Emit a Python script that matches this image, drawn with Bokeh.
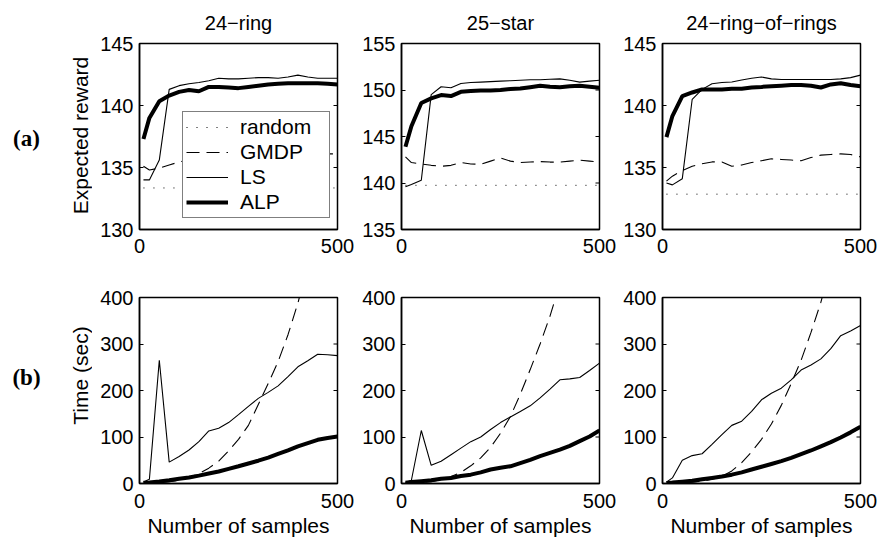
from bokeh.plotting import figure
from bokeh.models import Range1d, FixedTicker, Legend, LegendItem, Label
from bokeh.layouts import gridplot
from bokeh.embed import file_html
from bokeh.resources import INLINE
import math

# ---------------- data ----------------
samples = [10, 25, 50, 75, 100, 125, 150, 175, 200, 225, 250, 275, 300,
           325, 350, 375, 400, 425, 450, 475, 500]
titles = ["24\u2212ring", "25\u2212star", "24\u2212ring\u2212of\u2212rings"]
series_names = ["random", "GMDP", "LS", "ALP"]
x_ticks = [0, 500]
reward_ticks_ring = [130, 135, 140, 145]
reward_ticks_star = [135, 140, 145, 150, 155]
time_ticks = [0, 100, 200, 300, 400]

# (a) expected reward
ring_random = [133.35, 133.35, 133.35, 133.35, 133.35, 133.35, 133.35, 133.35, 133.35, 133.35, 133.35,
               133.35, 133.35, 133.35, 133.35, 133.35, 133.35, 133.35, 133.35, 133.35, 133.35]
ring_gmdp = [135.1, 134.8, 134.95, 135.2, 135.45, 135.6, 135.55, 135.4, 135.6, 135.7, 135.8,
             135.75, 135.9, 135.85, 135.9, 136.0, 136.05, 136.1, 136.0, 136.1, 136.1]
ring_ls = [134.0, 134.0, 135.6, 141.3, 141.6, 141.75, 141.85, 142.0, 142.2, 142.15, 142.15,
           142.2, 142.25, 142.25, 142.2, 142.3, 142.45, 142.3, 142.2, 142.2, 142.2]
ring_alp = [137.3, 139.0, 140.35, 140.8, 141.1, 141.25, 141.15, 141.5, 141.5, 141.45, 141.4,
            141.5, 141.6, 141.7, 141.75, 141.8, 141.8, 141.8, 141.8, 141.75, 141.7]

star_random = [139.75, 139.75, 139.75, 139.75, 139.75, 139.75, 139.75, 139.75, 139.75, 139.75, 139.75,
               139.75, 139.75, 139.75, 139.75, 139.75, 139.75, 139.75, 139.75, 139.75, 139.75]
star_gmdp = [142.8, 142.2, 142.05, 141.9, 141.8, 141.9, 142.2, 142.05, 142.0, 142.35, 142.7,
             142.35, 142.2, 142.25, 142.3, 142.25, 142.25, 142.35, 142.45, 142.35, 142.25]
star_ls = [139.6, 139.85, 140.3, 149.5, 150.35, 150.25, 150.7, 150.8, 150.85, 150.9, 150.95,
           151.0, 151.05, 151.1, 151.1, 151.15, 151.2, 151.05, 150.85, 150.95, 151.05]
star_alp = [143.9, 146.1, 148.6, 149.1, 149.45, 149.35, 149.8, 149.9, 149.95, 149.95, 150.0,
            150.1, 150.15, 150.3, 150.45, 150.35, 150.3, 150.4, 150.45, 150.35, 150.25]

rr_random = [132.85, 132.85, 132.85, 132.85, 132.85, 132.85, 132.85, 132.85, 132.85, 132.85, 132.85,
             132.85, 132.85, 132.85, 132.85, 132.85, 132.85, 132.85, 132.85, 132.85, 132.85]
rr_gmdp = [133.9, 134.3, 134.75, 135.1, 135.3, 135.45, 135.45, 135.1, 135.2, 135.4, 135.55,
           135.7, 135.65, 135.6, 135.55, 135.8, 136.0, 136.05, 136.1, 136.05, 135.85]
rr_ls = [133.75, 133.6, 134.1, 140.5, 141.3, 141.75, 141.85, 141.9, 142.05, 142.2, 142.3,
         142.15, 142.1, 142.1, 142.1, 142.1, 142.1, 142.1, 142.15, 142.25, 142.45]
rr_alp = [137.45, 139.15, 140.75, 141.05, 141.3, 141.3, 141.3, 141.35, 141.35, 141.45, 141.5,
          141.55, 141.6, 141.65, 141.65, 141.6, 141.45, 141.7, 141.8, 141.65, 141.55]

# (b) time (sec); GMDP runs off the top of the axes, only readable part kept
ring_time_gmdp = [0.5, 1, 2, 4, 7, 13, 21, 33, 48, 70, 95, 125, 170, 215, 262, 320, 388, 470]
ring_time_ls = [3, 9, 265, 46, 58, 72, 90, 113, 119, 131, 148, 166, 183, 196, 210, 230, 251,
                264, 278, 277, 275]
ring_time_alp = [1.4, 2, 4.3, 7, 10, 13, 17, 21.4, 25.7, 31.4, 37, 43, 49, 55.7, 63.6, 71.4, 80,
                 87, 94, 98, 101]

star_time_gmdp = [0.5, 1, 2, 4, 8, 15, 24, 38, 55, 78, 108, 144, 192, 245, 300, 360, 430]
star_time_ls = [1.4, 7, 114, 39, 48, 62, 76, 90, 100, 116, 131, 143, 155, 167, 184, 203, 223,
                225, 228, 243, 259]
star_time_alp = [1.4, 3, 5, 7, 10, 12, 16, 19, 24, 30, 34, 37, 44, 51, 59, 66, 73, 81, 91, 101, 114]

rr_time_gmdp = [0.5, 1, 2, 3, 5, 9, 15, 27, 45, 68, 95, 128, 168, 215, 265, 325, 390, 470]
rr_time_ls = [3, 12, 50, 60, 64, 84, 105, 125, 134, 155, 180, 194, 205, 223, 244, 255, 268,
              290, 318, 328, 340]
rr_time_alp = [1, 2, 4, 6, 9, 12, 15, 19, 24, 30, 36, 42, 48, 55, 63, 71, 80, 89, 99, 110, 122]

# ---------------- styling / layout ----------------
FONT = "Liberation Sans"
TICK_SIZE = "20px"
LABEL_SIZE = "21px"

side_w = 92
col_w = [265, 262, 259]
col_left = [47, 44, 43]
col_right = [20, 20, 18]
row_h = [262, 277]
row_top = [43, 35]
row_bottom = [33, 56]
frame_h = row_h[0] - row_top[0] - row_bottom[0]
x_label_standoff = [9, 10]

styles = {
    "random": dict(line_width=1, line_dash="1 9"),
    "GMDP": dict(line_width=1.1, line_dash="13 7"),
    "LS": dict(line_width=1.1),
    "ALP": dict(line_width=4),
}


def style_axis(ax, ticks):
    ax.ticker = FixedTicker(ticks=ticks)
    ax.axis_line_color = "black"
    ax.axis_line_width = 1.5
    ax.major_tick_in = 4
    ax.major_tick_out = 0
    ax.major_tick_line_color = "black"
    ax.minor_tick_line_color = None
    ax.major_label_text_font = FONT
    ax.major_label_text_color = "black"
    ax.major_label_text_font_size = TICK_SIZE
    ax.major_label_standoff = 7
    ax.axis_label_text_font = FONT
    ax.axis_label_text_font_size = LABEL_SIZE
    ax.axis_label_text_font_style = "normal"
    ax.axis_label_text_color = "black"


def panel(ci, ri, yr, yticks, data, title=None, xlabel=None):
    p = figure(width=col_w[ci], height=row_h[ri],
               x_range=Range1d(0, 500), y_range=Range1d(*yr),
               output_backend="svg", toolbar_location=None,
               min_border_left=col_left[ci], min_border_right=col_right[ci],
               min_border_top=row_top[ri], min_border_bottom=row_bottom[ri])
    p.grid.visible = False
    p.outline_line_color = "black"
    p.outline_line_width = 1.5
    p.background_fill_color = "white"
    p.border_fill_color = "white"
    style_axis(p.xaxis[0], x_ticks)
    style_axis(p.yaxis[0], yticks)
    p.xaxis[0].major_label_standoff = x_label_standoff[ri]
    p.yaxis[0].major_label_standoff = 6
    p.xaxis[0].axis_label_standoff = 3
    # mirrored (inward) tick marks on the right-hand edge of the box
    p.scatter(x=[p.x_range.end] * len(yticks), y=yticks, marker="dash", size=8,
              line_color="black", line_width=1)
    if title:
        p.title.text = title
        p.title.align = "center"
        p.title.text_font = FONT
        p.title.text_font_size = TICK_SIZE
        p.title.text_font_style = "normal"
        p.title.text_color = "black"
        p.title.standoff = 19
    if xlabel:
        p.xaxis[0].axis_label = xlabel
    rends = {}
    for name, (xs, ys) in data.items():
        rends[name] = p.line(xs, ys, line_color="black", **styles[name])
    return p, rends


p11, r11 = panel(0, 0, (130, 145), reward_ticks_ring,
                 {"random": (samples, ring_random), "GMDP": (samples, ring_gmdp),
                  "LS": (samples, ring_ls), "ALP": (samples, ring_alp)},
                 title=titles[0])
p12, _ = panel(1, 0, (135, 155), reward_ticks_star,
               {"random": (samples, star_random), "GMDP": (samples, star_gmdp),
                "LS": (samples, star_ls), "ALP": (samples, star_alp)},
               title=titles[1])
p13, _ = panel(2, 0, (130, 145), reward_ticks_ring,
               {"random": (samples, rr_random), "GMDP": (samples, rr_gmdp),
                "LS": (samples, rr_ls), "ALP": (samples, rr_alp)},
               title=titles[2])

p21, _ = panel(0, 1, (0, 400), time_ticks,
               {"GMDP": (samples[:len(ring_time_gmdp)], ring_time_gmdp),
                "LS": (samples, ring_time_ls), "ALP": (samples, ring_time_alp)},
               xlabel="Number of samples")
p22, _ = panel(1, 1, (0, 400), time_ticks,
               {"GMDP": (samples[:len(star_time_gmdp)], star_time_gmdp),
                "LS": (samples, star_time_ls), "ALP": (samples, star_time_alp)},
               xlabel="Number of samples")
p23, _ = panel(2, 1, (0, 400), time_ticks,
               {"GMDP": (samples[:len(rr_time_gmdp)], rr_time_gmdp),
                "LS": (samples, rr_time_ls), "ALP": (samples, rr_time_alp)},
               xlabel="Number of samples")

legend = Legend(items=[LegendItem(label=n, renderers=[r11[n]]) for n in series_names],
                location=(43, 11), padding=3, spacing=1, glyph_width=42, glyph_height=20,
                label_standoff=12, label_width=86, label_height=20,
                label_text_font=FONT, label_text_font_size=LABEL_SIZE, label_text_color="black",
                border_line_color="black", border_line_width=1.5,
                background_fill_color="white", background_fill_alpha=1.0)
p11.add_layout(legend)


def side_panel(h, tag, tag_dy, ylabel, ylabel_dy):
    """Left strip with the row tag and the row's y-axis title.

    In the grid this strip's frame lines up with the row's axes boxes, so the
    screen y of each label is measured up from the bottom of those boxes."""
    f = figure(width=side_w, height=h, min_border=0, toolbar_location=None, output_backend="svg",
               x_range=Range1d(0, 1), y_range=Range1d(0, 1), x_axis_type=None, y_axis_type=None)
    f.grid.visible = False
    f.outline_line_color = None
    f.add_layout(Label(x=26, y=tag_dy, x_units="screen", y_units="screen", text=tag,
                       text_font="Liberation Serif", text_font_style="bold", text_font_size="23px",
                       text_align="center", text_baseline="middle", text_color="black"))
    f.add_layout(Label(x=80, y=ylabel_dy, x_units="screen", y_units="screen", text=ylabel,
                       angle=math.pi / 2, text_font=FONT, text_font_size=LABEL_SIZE,
                       text_align="center", text_baseline="middle", text_color="black"))
    return f


# axes-box bottoms on the page: 229 (row a) and 483 (row b)
box_bottom_a = row_top[0] + frame_h
box_bottom_b = row_h[0] + row_top[1] + frame_h
fa = side_panel(row_h[0], "(a)", box_bottom_a - 138, "Expected reward", box_bottom_a - 135)
fb = side_panel(row_h[1], "(b)", box_bottom_b - 377, "Time (sec)", box_bottom_b - 375)

grid = gridplot([[fa, p11, p12, p13], [fb, p21, p22, p23]], toolbar_location=None)

open("out.html", "w").write(file_html(grid, INLINE))
